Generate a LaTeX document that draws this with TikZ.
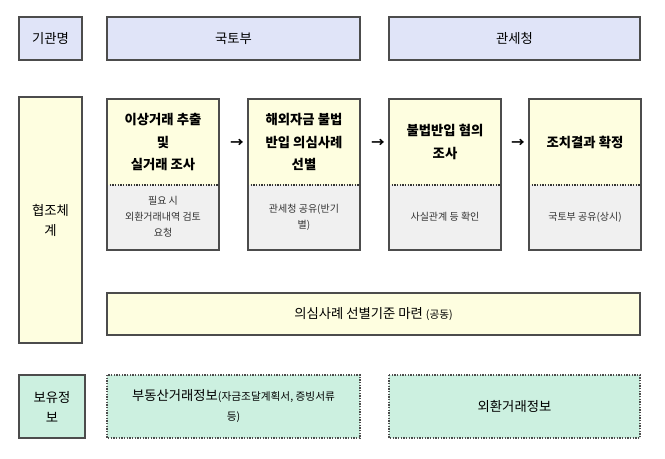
\documentclass[tikz,border=0pt]{standalone}
\usepackage{fontspec}
\setmainfont{Noto Sans CJK KR}
\begin{document}
\begin{tikzpicture}[x=0.75pt,y=-0.75pt,
  bx/.style={draw=black!70,line width=1.1pt},
  dbx/.style={draw=black!70,line width=1pt,dash pattern=on 1pt off 1pt},
  lbl/.style={align=center,font=\fontsize{10}{15}\selectfont},
  sm/.style={align=center,font=\fontsize{7.5}{12}\selectfont,text=black!80}]
\definecolor{hb}{HTML}{E0E4F8}
\definecolor{yl}{HTML}{FEFEE0}
\definecolor{gr}{HTML}{F0F0F0}
\definecolor{mt}{HTML}{CCF0E0}
\useasboundingbox (0,0) rectangle (665,458);
\draw[bx,fill=hb] (19,17) rectangle (82,60) node[lbl,midway] (a) {기관명};
\draw[bx,fill=hb] (107,17) rectangle (360,60) node[lbl,midway] (b) {국토부};
\draw[bx,fill=hb] (389,17) rectangle (640,60) node[lbl,midway] (c) {관세청};
\draw[bx,fill=yl] (19,97) rectangle (82,343) node[lbl,midway] (d) {협조체\\계};
\foreach \x/\n/\t/\s in {107/s1/{이상거래 추출\\및\\실거래 조사}/{필요 시\\외환거래내역 검토\\요청},
  248/s2/{해외자금 불법\\반입 의심사례\\선별}/{관세청 공유(반기\\별)},
  389/s3/{불법반입 혐의\\조사}/{사실관계 등 확인},
  529/s4/{조치결과 확정}/{국토부 공유(상시)}}{
  \fill[yl] (\x,99) rectangle (\x+112,185);
  \fill[gr] (\x,185) rectangle (\x+112,250);
  \draw[black!80,line width=1pt,dash pattern=on 1pt off 1pt] (\x,185) -- (\x+112,185);
  \draw[bx] (\x,99) rectangle (\x+112,250);
  \node[lbl,font=\bfseries\fontsize{10}{17}\selectfont] (\n) at (\x+56,142) {\t};
  \node[sm] (\n l) at (\x+56,217) {\s};
}
\foreach \x/\n in {237/r1,378/r2,518/r3}{\node[font=\bfseries] (\n) at (\x,143) {→};}
\draw[bx,fill=yl] (107,293) rectangle (640,335) node[lbl,midway] (e) {의심사례 선별기준 마련 {\fontsize{8}{10}\selectfont(공동)}};
\draw[bx,fill=mt] (19,375) rectangle (85,438) node[lbl,midway] (f) {보유정\\보};
\draw[dbx,fill=mt] (107,375) rectangle (360,438) node[lbl,midway] (g) {부동산거래정보{\fontsize{8}{10}\selectfont(자금조달계획서, 증빙서류}\\{\fontsize{8}{10}\selectfont 등)}};
\draw[dbx,fill=mt] (389,375) rectangle (640,438) node[lbl,midway] (h) {외환거래정보};
\end{tikzpicture}
\end{document}
